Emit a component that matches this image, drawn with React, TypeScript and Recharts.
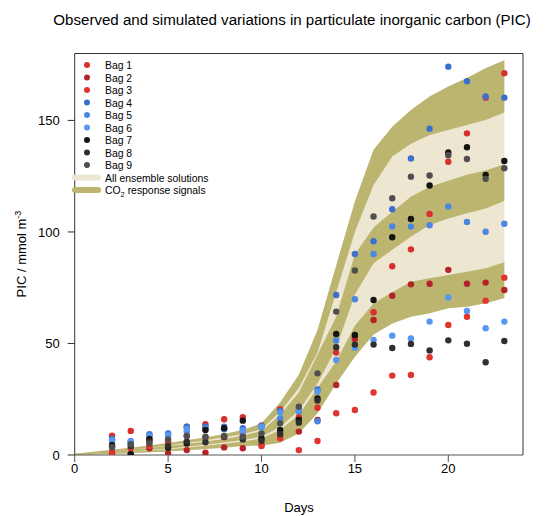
import {
  ComposedChart,
  Area,
  Scatter,
  XAxis,
  YAxis,
  ReferenceLine,
} from "recharts";

// model days for the simulated bands
const bandDays = [0, 1, 2, 3, 4, 5, 6, 7, 8, 9, 10, 11, 12, 13, 14, 15, 16, 17, 18, 19, 20, 21, 22, 23];
const upperTop = [0.6, 1.5, 2.4, 3.3, 4.3, 5.4, 6.6, 7.9, 9.4, 11.2, 14.2, 23.5, 36, 56, 85, 113.6, 136.8, 147.2, 154.7, 160.7, 165.2, 169, 173.4, 177];
const upperBottom = [0.2, 0.9, 1.6, 2.4, 3.3, 4.3, 5.4, 6.6, 8.0, 9.4, 11.5, 19.4, 30, 46, 73, 100, 121, 133.8, 139.5, 143.5, 145.7, 148, 150.2, 153.5];
const middleTop = [0.4, 1.0, 1.7, 2.4, 3.1, 4.0, 4.9, 6.0, 7.2, 8.6, 10.8, 18, 28, 45, 62, 90, 102, 109, 115.8, 120.3, 123, 125.6, 127.5, 130.3];
const middleBottom = [0.1, 0.5, 1.0, 1.6, 2.2, 2.9, 3.7, 4.6, 5.6, 6.7, 8.2, 12.7, 20, 32, 48, 72, 86, 92, 97.9, 103.1, 106, 108.4, 110.5, 113.9];
const lowerTop = [0.2, 0.6, 1.0, 1.5, 2.0, 2.6, 3.3, 4.1, 5.0, 6.0, 7.4, 11.2, 18, 30, 42, 58, 68, 73, 77.7, 79.2, 80.7, 82.2, 83.7, 86.4];
const lowerBottom = [0, 0.2, 0.5, 0.8, 1.2, 1.6, 2.1, 2.7, 3.3, 4.0, 4.3, 5.5, 9.7, 18.7, 32, 44, 54, 59, 62, 63.5, 65.8, 66.5, 68, 70.4];

// observation days and bag values (mmol m-3)
const obsDays = [2, 3, 4, 5, 6, 7, 8, 9, 10, 11, 12, 13, 14, 15, 16, 17, 18, 19, 20, 21, 22, 23];
const bag1 = [8.6, 10.8, 7.0, 6.0, 12.7, 13.8, 16.0, 16.9, 13.2, 20.5, 16.9, 21.2, 45.9, 53.1, 64.0, 84.6, 92.2, 108.1, 131.5, 144.2, 160.2, 171.2];
const bag2 = [0.8, 0.4, 3.0, 0.7, 2.2, 1.0, 3.4, 3.0, 4.5, 8.2, 10.5, 15.7, 31.4, 52.0, 60.5, 71.4, 76.5, 76.8, 83.0, 76.8, 77.3, 74.0];
const bag3 = [1.2, 3.0, 4.0, 5.5, 8.5, 7.9, 8.0, 8.5, 4.0, 7.5, 2.2, 6.3, 18.7, 20.2, 28.0, 35.6, 35.9, 43.8, 58.3, 62.0, 69.2, 79.5];
const bag4 = [7.2, 6.0, 9.3, 9.7, 12.7, 12.7, 12.7, 12.0, 13.0, 19.7, 20.5, 29.4, 71.7, 90.1, 95.8, 110.2, 132.9, 146.3, 174.1, 167.6, 160.7, 160.2];
const bag5 = [6.8, 5.5, 8.8, 8.7, 10.5, 12.0, 11.5, 10.5, 12.5, 16.4, 19.5, 15.1, 51.3, 69.8, 90.1, 102.5, 102.4, 103.0, 111.4, 104.5, 100.1, 103.7];
const bag6 = [6.5, 6.3, 8.5, 9.0, 11.7, 11.5, 12.0, 11.0, 12.8, 19.0, 20.0, 28.5, 42.6, 48.1, 51.6, 53.5, 52.2, 59.8, 70.6, 64.6, 56.8, 59.8];
const bag7 = [4.5, 0.4, 7.2, 3.3, 5.2, 11.2, 12.0, 15.4, 7.5, 11.2, 15.7, 25.4, 54.3, 53.8, 69.5, 97.6, 105.8, 120.8, 135.6, 138.0, 125.6, 131.8];
const bag8 = [3.8, 4.0, 6.0, 4.0, 6.0, 5.7, 8.2, 7.0, 6.4, 9.4, 14.5, 24.4, 48.3, 49.5, 49.5, 48.0, 49.8, 46.9, 51.4, 49.9, 41.6, 51.1];
const bag9 = [3.4, 4.8, 5.2, 7.0, 8.5, 8.2, 8.5, 8.2, 9.7, 14.2, 21.7, 36.6, 64.3, 82.7, 106.9, 115.1, 124.8, 125.3, 134.4, 132.7, 123.8, 128.6];

const xTicks = [0, 5, 10, 15, 20];
const yTicks = [0, 50, 100, 150];

const OLIVE = "#bbb56f";
const CREAM = "#ede7d2";
const FONT = "'Liberation Sans', Arial, sans-serif";

const bags = [
  { name: "Bag 1", values: bag1, color: "#d8302c" },
  { name: "Bag 2", values: bag2, color: "#b52227" },
  { name: "Bag 3", values: bag3, color: "#e0342f" },
  { name: "Bag 4", values: bag4, color: "#3d6fcf" },
  { name: "Bag 5", values: bag5, color: "#4a86e2" },
  { name: "Bag 6", values: bag6, color: "#5897f0" },
  { name: "Bag 7", values: bag7, color: "#141414" },
  { name: "Bag 8", values: bag8, color: "#2f2f2f" },
  { name: "Bag 9", values: bag9, color: "#4f4f4f" },
];

const bandData = bandDays.map((day, i) => ({
  day,
  all: [lowerBottom[i], upperTop[i]],
  upper: [upperBottom[i], upperTop[i]],
  middle: [middleBottom[i], middleTop[i]],
  lower: [lowerBottom[i], lowerTop[i]],
}));

function Dot(props: any, color: string) {
  if (props.cx == null || props.cy == null) return <g />;
  return <circle cx={props.cx} cy={props.cy} r={3.2} fill={color} />;
}

function LegendBox() {
  const x0 = 87;
  const y0 = 65;
  const step = 12.5;
  return (
    <svg
      width={547}
      height={516}
      style={{ position: "absolute", left: 0, top: 0, pointerEvents: "none" }}
      fontFamily={FONT}
    >
      <text x={292} y={25} textAnchor="middle" fontSize={15.1} fill="#000">
        Observed and simulated variations in particulate inorganic carbon (PIC)
      </text>
      <text x={299} y={512} textAnchor="middle" fontSize={13} fill="#000">
        Days
      </text>
      <text
        transform="translate(26,254) rotate(-90)"
        textAnchor="middle"
        fontSize={13}
        fill="#000"
      >
        PIC / mmol m
        <tspan dy={-5} fontSize={9}>
          -3
        </tspan>
      </text>
      {bags.map((b, i) => (
        <g key={b.name}>
          <circle cx={x0} cy={y0 + i * step} r={3} fill={b.color} />
          <text x={105} y={y0 + i * step + 4} fontSize={10.4} fill="#000">
            {b.name}
          </text>
        </g>
      ))}
      <line x1={75} x2={98} y1={y0 + 9 * step} y2={y0 + 9 * step} stroke={CREAM} strokeWidth={6} strokeLinecap="round" />
      <text x={105} y={y0 + 9 * step + 4} fontSize={10.4} fill="#000">
        All ensemble solutions
      </text>
      <line x1={75} x2={98} y1={y0 + 10 * step} y2={y0 + 10 * step} stroke={OLIVE} strokeWidth={6} strokeLinecap="round" />
      <text x={105} y={y0 + 10 * step + 4} fontSize={10.4} fill="#000">
        CO
        <tspan dy={3} fontSize={7.5}>
          2
        </tspan>
        <tspan dy={-3}> response signals</tspan>
      </text>
    </svg>
  );
}

export default function App() {
  return (
    <div style={{ position: "absolute", left: 0, top: 0, width: 547, height: 516, background: "#fff" }}>
      <ComposedChart
        width={547}
        height={516}
        data={bandData}
        margin={{ top: 53.5, right: 24, bottom: 31, left: 0 }}
      >
        <XAxis
          dataKey="day"
          type="number"
          domain={[0, 24]}
          ticks={xTicks}
          allowDataOverflow
          height={30}
          tickSize={7}
          stroke="#555"
          tick={{ fill: "#000", fontSize: 13, fontFamily: FONT }}
        />
        <YAxis
          type="number"
          domain={[0, 180]}
          ticks={yTicks}
          allowDataOverflow
          width={74.7}
          tickSize={7}
          tickMargin={8}
          stroke="#333"
          tick={{ fill: "#000", fontSize: 13, fontFamily: FONT }}
        />
        <ReferenceLine y={180} stroke="#333" />
        <ReferenceLine x={24} stroke="#333" />
        <Area type="linear" dataKey="all" stroke="none" fill={CREAM} fillOpacity={1} isAnimationActive={false} />
        <Area type="linear" dataKey="upper" stroke="none" fill={OLIVE} fillOpacity={1} isAnimationActive={false} />
        <Area type="linear" dataKey="middle" stroke="none" fill={OLIVE} fillOpacity={1} isAnimationActive={false} />
        <Area type="linear" dataKey="lower" stroke="none" fill={OLIVE} fillOpacity={1} isAnimationActive={false} />
        {bags.map((b) => (
          <Scatter
            key={b.name}
            name={b.name}
            data={obsDays.map((day, i) => ({ day, pic: b.values[i] }))}
            dataKey="pic"
            shape={(p: any) => Dot(p, b.color)}
            isAnimationActive={false}
          />
        ))}
      </ComposedChart>
      <LegendBox />
    </div>
  );
}
